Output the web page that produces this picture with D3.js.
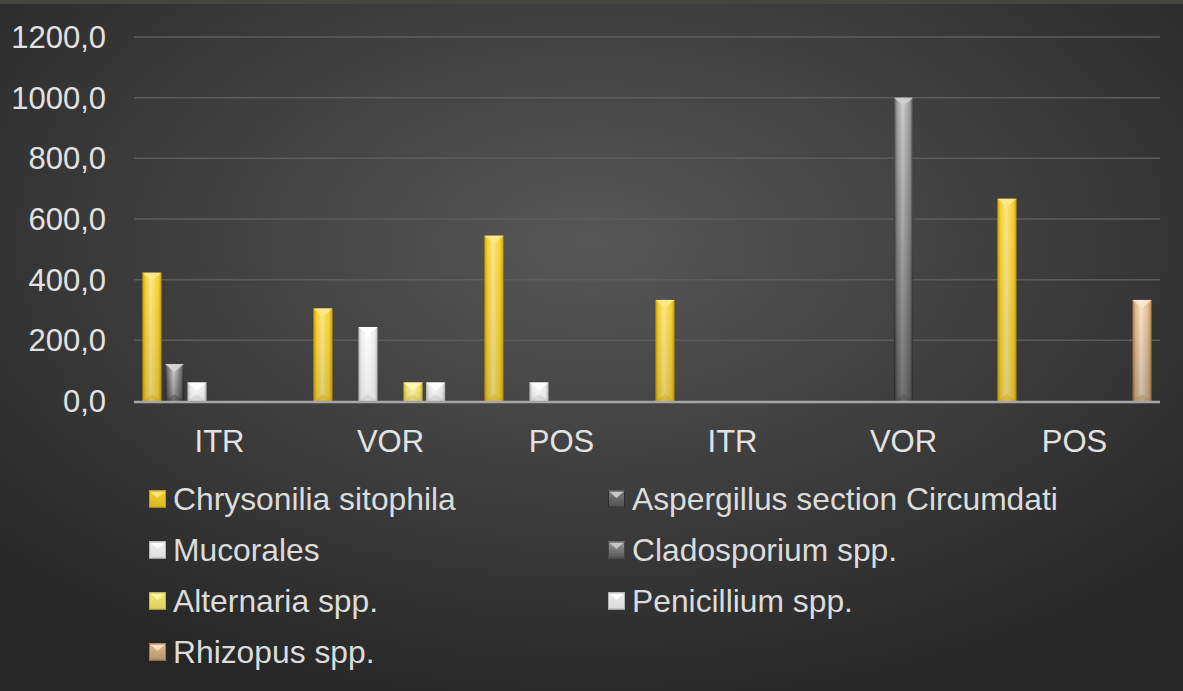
<!DOCTYPE html>
<html>
<head>
<meta charset="utf-8">
<title>Fungi chart</title>
<script src="https://d3js.org/d3.v7.min.js"></script>
<style>
    body { margin: 0; background: #2b2b2b; }
    svg text { font-family: "Liberation Sans", Arial, sans-serif; }
</style>
</head>
<body>
<div id="chart"></div>
<script>
// categories and series
var categories = ['ITR', 'VOR', 'POS', 'ITR', 'VOR', 'POS'];
var seriesNames = ['Chrysonilia sitophila', 'Aspergillus section Circumdati', 'Mucorales',
    'Cladosporium spp.', 'Alternaria spp.', 'Penicillium spp.', 'Rhizopus spp.'];
var chrysonilia  = [423, 305, 545, 333.3, 0, 666.7];
var aspergillus  = [122, 0, 0, 0, 0, 0];
var mucorales    = [61, 244, 61, 0, 0, 0];
var cladosporium = [0, 0, 0, 0, 1000, 0];
var alternaria   = [0, 61, 0, 0, 0, 0];
var penicillium  = [0, 61, 0, 0, 0, 0];
var rhizopus     = [0, 0, 0, 0, 0, 333.3];
var yTicks = [0, 200, 400, 600, 800, 1000, 1200];

var seriesValues = [chrysonilia, aspergillus, mucorales, cladosporium, alternaria, penicillium, rhizopus];

// edge / mid / light colours for the bevelled bars, plus how much they darken downwards
var palette = [
    {edge: '#c79a06', mid: '#f7cf2a', light: '#fde98a', shade: 0.12},
    {edge: '#2e2e2e', mid: '#7a7a7a', light: '#d6d6d6', shade: 0.35},
    {edge: '#b8b8b8', mid: '#f0f0f0', light: '#ffffff', shade: 0.08},
    {edge: '#444444', mid: '#9a9a9a', light: '#cfcfcf', shade: 0.45},
    {edge: '#c9b640', mid: '#f5e66a', light: '#fff7b8', shade: 0.1},
    {edge: '#b4b4b4', mid: '#ececec', light: '#ffffff', shade: 0.08},
    {edge: '#a57a44', mid: '#e2b888', light: '#fbe8cf', shade: 0.2}
];

var width = 1183, height = 691;
var svg = d3.select('#chart').append('svg')
    .attr('width', width)
    .attr('height', height);

var defs = svg.append('defs');
var bg = defs.append('radialGradient').attr('id', 'bg')
    .attr('cx', '50%').attr('cy', '35%').attr('r', '70%');
bg.append('stop').attr('offset', '0%').attr('stop-color', '#575757');
bg.append('stop').attr('offset', '100%').attr('stop-color', '#262626');

palette.forEach(function(p, i) {
    var g = defs.append('linearGradient').attr('id', 'bar' + i)
        .attr('x1', '0%').attr('x2', '100%').attr('y1', '0%').attr('y2', '0%');
    g.append('stop').attr('offset', '0%').attr('stop-color', p.edge);
    g.append('stop').attr('offset', '15%').attr('stop-color', p.mid);
    g.append('stop').attr('offset', '45%').attr('stop-color', p.light);
    g.append('stop').attr('offset', '85%').attr('stop-color', p.mid);
    g.append('stop').attr('offset', '100%').attr('stop-color', p.edge);

    var v = defs.append('linearGradient').attr('id', 'shade' + i)
        .attr('x1', '0%').attr('x2', '0%').attr('y1', '0%').attr('y2', '100%');
    v.append('stop').attr('offset', '0%').attr('stop-color', '#000').attr('stop-opacity', 0);
    v.append('stop').attr('offset', '100%').attr('stop-color', '#000').attr('stop-opacity', p.shade);
});

svg.append('rect').attr('width', width).attr('height', height).attr('fill', 'url(#bg)');
svg.append('rect').attr('width', width).attr('height', 4).attr('fill', '#46463f');

// scales
var x = d3.scaleBand()
    .domain(d3.range(categories.length))
    .range([134, 1160]);

var xInner = d3.scaleBand()
    .domain(d3.range(seriesNames.length))
    .range([5, x.bandwidth() - 5])
    .padding(0.15);

var y = d3.scaleLinear()
    .domain([0, 1200])
    .range([401, 37]);

// gridlines
svg.append('g').selectAll('line')
    .data(yTicks.slice(1))
    .enter().append('line')
    .attr('x1', 134).attr('x2', 1160)
    .attr('y1', function(d) { return y(d); })
    .attr('y2', function(d) { return y(d); })
    .attr('stroke', '#5c5c5c')
    .attr('stroke-width', 1.5);

// y axis labels
var fmt = function(d) { return d3.format('.1f')(d).replace('.', ','); };
svg.append('g').selectAll('text')
    .data(yTicks)
    .enter().append('text')
    .attr('x', 106)
    .attr('y', function(d) { return y(d); })
    .attr('dy', '0.35em')
    .attr('text-anchor', 'end')
    .attr('fill', '#e2e2e2')
    .attr('font-size', 31)
    .text(fmt);

// bars
var barData = [];
seriesValues.forEach(function(vals, s) {
    vals.forEach(function(v, c) {
        if (v > 0) barData.push({s: s, c: c, v: v});
    });
});

var bars = svg.append('g').selectAll('g')
    .data(barData)
    .enter().append('g')
    .attr('transform', function(d) { return 'translate(' + (x(d.c) + xInner(d.s)) + ',0)'; });

var bw = xInner.bandwidth();
bars.append('rect')
    .attr('x', 0)
    .attr('y', function(d) { return y(d.v); })
    .attr('width', bw)
    .attr('height', function(d) { return y(0) - y(d.v); })
    .attr('fill', function(d) { return 'url(#bar' + d.s + ')'; });
bars.append('rect')
    .attr('x', 0)
    .attr('y', function(d) { return y(d.v); })
    .attr('width', bw)
    .attr('height', function(d) { return y(0) - y(d.v); })
    .attr('fill', function(d) { return 'url(#shade' + d.s + ')'; });

// bevel: light triangle on top, shaded wedge at bottom
bars.append('path')
    .attr('d', function(d) {
        var t = y(d.v), h = Math.min(bw * 0.42, (y(0) - t) / 2);
        return 'M0,' + t + 'L' + bw + ',' + t + 'L' + (bw / 2) + ',' + (t + h) + 'Z';
    })
    .attr('fill', function(d) { return palette[d.s].light; })
    .attr('opacity', 0.9);
bars.append('path')
    .attr('d', function(d) {
        var b = y(0), h = Math.min(bw * 0.35, (y(0) - y(d.v)) / 2);
        return 'M0,' + b + 'L' + bw + ',' + b + 'L' + (bw / 2) + ',' + (b - h) + 'Z';
    })
    .attr('fill', function(d) { return palette[d.s].edge; })
    .attr('opacity', 0.35);

// x axis line
svg.append('line')
    .attr('x1', 134).attr('x2', 1160)
    .attr('y1', 402).attr('y2', 402)
    .attr('stroke', '#a6a6a6')
    .attr('stroke-width', 2.5);

// category labels
svg.append('g').selectAll('text')
    .data(categories)
    .enter().append('text')
    .attr('x', function(d, i) { return x(i) + x.bandwidth() / 2; })
    .attr('y', 441)
    .attr('dy', '0.35em')
    .attr('text-anchor', 'middle')
    .attr('fill', '#e2e2e2')
    .attr('font-size', 31)
    .text(function(d) { return d; });

// legend, two columns
var legend = svg.append('g').selectAll('g')
    .data(seriesNames)
    .enter().append('g')
    .attr('transform', function(d, i) {
        var col = i % 2, row = Math.floor(i / 2);
        return 'translate(' + (col === 0 ? 149 : 608) + ',' + (499 + row * 51) + ')';
    });

legend.append('rect')
    .attr('x', 0).attr('y', -8.5)
    .attr('width', 17).attr('height', 17)
    .attr('fill', function(d, i) { return palette[i].mid; });
legend.append('rect')
    .attr('x', 0).attr('y', -8.5)
    .attr('width', 17).attr('height', 17)
    .attr('fill', function(d, i) { return 'url(#shade' + i + ')'; });
legend.append('path')
    .attr('d', 'M0,-8.5L17,-8.5L8.5,-1Z')
    .attr('fill', function(d, i) { return palette[i].light; })
    .attr('opacity', 0.85);
legend.append('rect')
    .attr('x', 0.5).attr('y', -8)
    .attr('width', 16).attr('height', 16)
    .attr('fill', 'none')
    .attr('stroke', function(d, i) { return palette[i].edge; })
    .attr('stroke-width', 1);

legend.append('text')
    .attr('x', 24)
    .attr('y', 0)
    .attr('dy', '0.35em')
    .attr('fill', '#dcdcdc')
    .attr('font-size', 31.8)
    .text(function(d) { return d; });
</script>
</body>
</html>
